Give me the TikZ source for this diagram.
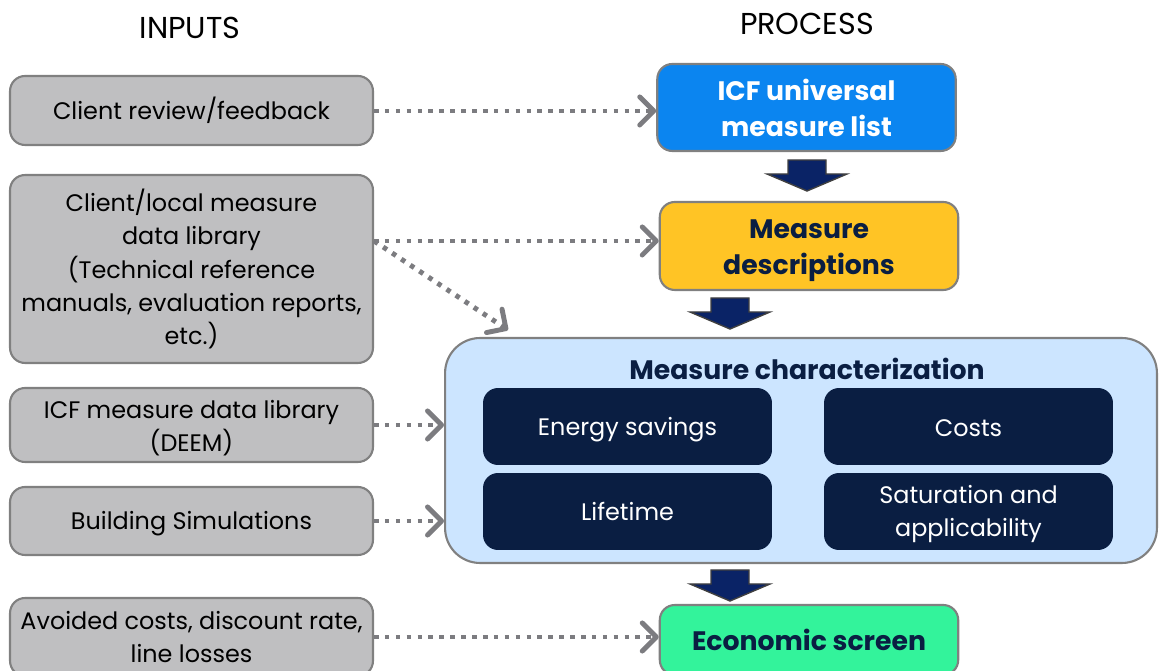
\documentclass[tikz,border=0pt]{standalone}
\usepackage{fontspec}
\setmainfont{Poppins}
\usetikzlibrary{arrows.meta}
\definecolor{inputgray}{HTML}{BFBFC1}
\definecolor{edgegray}{HTML}{808080}
\definecolor{dotgray}{HTML}{7C7C80}
\definecolor{icfblue}{HTML}{0B85F0}
\definecolor{icfyellow}{HTML}{FFC425}
\definecolor{icfgreen}{HTML}{33F39B}
\definecolor{paleblue}{HTML}{CCE5FF}
\definecolor{navy}{HTML}{0A1E42}
\definecolor{arrownavy}{HTML}{0A2366}
% invisible strut that lowers a node's text a little
\newcommand\lowstrut[1]{\rule{0pt}{#1}}
\begin{document}
\begin{tikzpicture}[x=0.02cm,y=-0.02cm,
  inputbox/.style={draw=edgegray,line width=1.2pt,fill=inputgray,rounded corners=0.3cm,
    minimum width=7.26cm,align=center,text=black,font=\fontsize{13.6}{18.8}\selectfont,inner sep=2pt},
  procbox/.style={draw=edgegray,line width=1.2pt,rounded corners=0.3cm,
    minimum width=5.97cm,align=center,font=\fontsize{15.2}{20.5}\selectfont\bfseries},
  subbox/.style={fill=navy,rounded corners=0.3cm,minimum width=5.78cm,minimum height=1.54cm,
    align=center,text=white,font=\fontsize{13.6}{18.8}\selectfont,inner sep=2pt},
  feed/.style={draw=dotgray,line width=2.8pt,dash pattern=on 2.6pt off 3.6pt,
    -{Straight Barb[length=8pt,width=16pt,line width=2.8pt,round]}},
  heading/.style={font=\fontsize{17.2}{20}\selectfont,text=black},
  pics/downarrow/.style={code={
    \filldraw[fill=arrownavy,draw=black!75,line width=0.8pt,line join=miter]
      (-19,0) -- (19,0) -- (19,14) -- (40,14) -- (0,31) -- (-40,14) -- (-19,14) -- cycle;}}
]
\useasboundingbox (0,0) rectangle (1159,671);
\clip (0,0) rectangle (1159,671);

% column headings
\node[heading] (hin) at (190,28) {INPUTS};
\node[heading] (hproc) at (807,24) {PROCESS};

% inputs
\node[inputbox,minimum height=1.38cm] (in1) at (191.5,110.5) {Client review/feedback};
\node[inputbox,minimum height=3.76cm] (in2) at (191.5,269)
  {Client/local measure\\data library\\(Technical reference\\manuals, evaluation reports,\\etc.)};
\node[inputbox,minimum height=1.48cm] (in3) at (191.5,425)
  {\lowstrut{13.6pt}ICF measure data library\\(DEEM)};
\node[inputbox,minimum height=1.36cm] (in4) at (191.5,521) {\lowstrut{13.6pt}Building Simulations};
\node[inputbox,minimum height=1.56cm] (in5) at (191.5,637) {Avoided costs, discount rate,\\line losses};

% process
\node[procbox,fill=icfblue,text=white,minimum height=1.74cm] (p1) at (806.5,107.5)
  {ICF universal\\measure list};
\node[procbox,fill=icfyellow,text=navy,minimum height=1.76cm] (p2) at (809,246)
  {\lowstrut{16.3pt}Measure\\descriptions};
\node[draw=edgegray,line width=1.2pt,fill=paleblue,rounded corners=0.7cm,
  minimum width=14.24cm,minimum height=4.5cm] (mc) at (801,450.5) {};
\node[text=navy,font=\fontsize{15.2}{20}\selectfont\bfseries] (mct) at (807,369)
  {Measure characterization};
\node[subbox] (s1) at (627.5,426.5) {\lowstrut{14.1pt}Energy savings};
\node[subbox] (s2) at (968.5,426.5) {\lowstrut{11pt}Costs};
\node[subbox] (s3) at (627.5,511.5) {Lifetime};
\node[subbox] (s4) at (968.5,511.5) {\lowstrut{13.7pt}Saturation and\\applicability};
\node[procbox,fill=icfgreen,text=navy,minimum height=1.4cm] (p4) at (809,640)
  {Economic screen};

% flow between process steps
\pic at (807,160) {downarrow};
\pic at (730,298) {downarrow};
\pic at (730,570) {downarrow};

% input feeds
\coordinate (diag) at (508,330);
\draw[feed] (in1.east |- 0,111) -- (p1.west |- 0,111);
\draw[feed] (in2.east |- 0,241) -- (p2.west |- 0,241);
\draw[feed] (in2.east |- 0,241) -- (diag);
\draw[feed] (in3.east) -- (in3.east -| mc.west);
\draw[feed] (in4.east) -- (in4.east -| mc.west);
\draw[feed] (in5.east) -- (in5.east -| p4.west);
\end{tikzpicture}
\end{document}
